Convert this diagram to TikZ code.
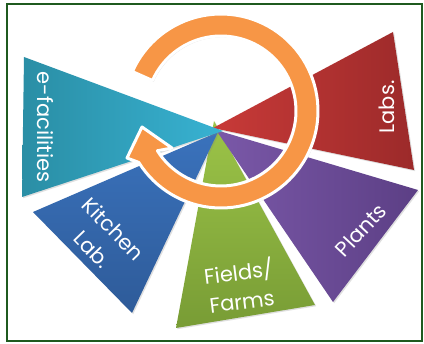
\documentclass[tikz,border=0pt]{standalone}
\usepackage{fontspec}
\setmainfont{Poppins}
\usetikzlibrary{calc,shadows}
\definecolor{tealA}{HTML}{2A8EA5}
\definecolor{tealB}{HTML}{38B2D2}
\definecolor{blueA}{HTML}{3A72BC}
\definecolor{blueB}{HTML}{2E5B99}
\definecolor{greenA}{HTML}{9CC448}
\definecolor{greenB}{HTML}{789C35}
\definecolor{purpA}{HTML}{7A58A8}
\definecolor{purpB}{HTML}{5C3F85}
\definecolor{redA}{HTML}{C83A38}
\definecolor{redB}{HTML}{9C2A2A}
\definecolor{ringorange}{HTML}{F79646}
\definecolor{framegreen}{HTML}{1F5A1F}

\begin{document}
\begin{tikzpicture}[x=1pt, y=-1pt] % pixel grid, y downwards

	\tikzstyle{wedge} = [drop shadow={opacity=0.25, shadow xshift=1.2pt, shadow yshift=-1.2pt}]
	\tikzstyle{wedgetext} = [text=white, font=\fontsize{21}{29}\selectfont, align=center, inner sep=0pt]

	\useasboundingbox (0,0) rectangle (424,344);
	\fill[white] (0,0) rectangle (424,344);
	\draw[framegreen, line width=2pt] (7,4) rectangle (422,341);

	\coordinate (hub) at (221,111);

	% wedges, back to front
	\shade[wedge, top color=greenA, bottom color=greenB] (214,121) -- (176,328) -- (315,305) -- cycle;
	\shade[wedge, left color=purpA, right color=purpB] (216,130) -- (333,302) -- (418,190) -- cycle;
	\shade[wedge, top color=blueA, bottom color=blueB] (218,132) -- (33,212) -- (132,313) -- cycle;
	\shade[wedge, left color=redA, right color=redB] (213,128) -- (393,32) -- (414,170) -- cycle;
	\shade[wedge, left color=tealA, right color=tealB] (223,131) -- (24,57) -- (22,197) -- cycle;

	% cycle arrow (outer r=97, inner r=75)
	\path[fill=ringorange, draw=white, line width=3pt, line join=round,
		drop shadow={opacity=0.25, shadow xshift=1.2pt, shadow yshift=-1.2pt}]
		plot[domain=-156:148, samples=90] ({221+97*cos(\x)}, {111+97*sin(\x)})
		-- (127,158) -- (142,127) -- (172,148)
		-- plot[domain=148:-156, samples=90] ({221+75*cos(\x)}, {111+75*sin(\x)}) -- cycle;

	\node[wedgetext, rotate=-90] (efac) at (45,127) {e-facilities};
	\node[wedgetext, rotate=-46] (kitchen) at (103,239) {Kitchen\\Lab.};
	\node[wedgetext, rotate=7] (fields) at (240,285) {Fields/\\Farms};
	\node[wedgetext, rotate=47] (plants) at (361,230) {Plants};
	\node[wedgetext, rotate=90] (labs) at (387,107) {Labs.};

\end{tikzpicture}
\end{document}
